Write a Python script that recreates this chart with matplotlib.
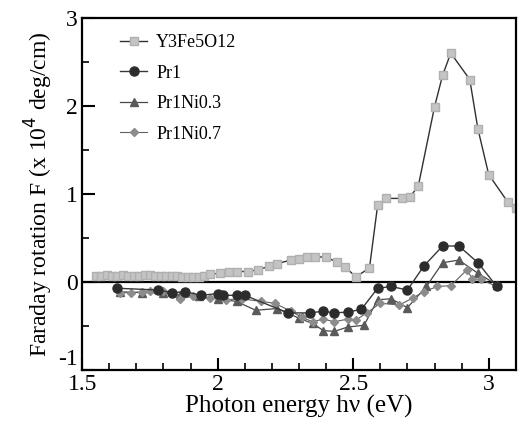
import matplotlib
matplotlib.use("Agg")
import matplotlib.pyplot as plt
from matplotlib.ticker import MultipleLocator

plt.rcParams['font.family'] = ['Liberation Serif', 'DejaVu Serif']
plt.rcParams['axes.unicode_minus'] = False

# Y3Fe5O12 (squares)
e_yig = [1.55, 1.57, 1.59, 1.61, 1.63, 1.65, 1.67, 1.69, 1.71, 1.73, 1.75, 1.77,
         1.79, 1.81, 1.83, 1.85, 1.87, 1.89, 1.91, 1.93, 1.95, 1.97, 2.01, 2.04,
         2.07, 2.11, 2.15, 2.19, 2.22, 2.27, 2.30, 2.33, 2.36, 2.40, 2.44, 2.47,
         2.51, 2.56, 2.59, 2.62, 2.68, 2.71, 2.74, 2.80, 2.83, 2.86, 2.93, 2.96,
         3.00, 3.07, 3.10]
f_yig = [0.07, 0.07, 0.08, 0.07, 0.07, 0.08, 0.07, 0.07, 0.07, 0.08, 0.08, 0.07,
         0.07, 0.07, 0.07, 0.07, 0.06, 0.06, 0.06, 0.06, 0.07, 0.09, 0.10, 0.11,
         0.12, 0.12, 0.14, 0.18, 0.21, 0.25, 0.26, 0.28, 0.29, 0.28, 0.23, 0.17,
         0.06, 0.16, 0.87, 0.95, 0.95, 0.97, 1.09, 1.99, 2.35, 2.60, 2.30, 1.74,
         1.22, 0.91, 0.84]

# Pr1 (circles)
e_pr1 = [1.63, 1.78, 1.83, 1.88, 1.94, 2.00, 2.02, 2.07, 2.10, 2.26, 2.34, 2.39,
         2.43, 2.48, 2.53, 2.59, 2.64, 2.70, 2.76, 2.83, 2.89, 2.96, 3.03]
f_pr1 = [-0.07, -0.09, -0.12, -0.11, -0.15, -0.13, -0.15, -0.15, -0.15, -0.35,
         -0.35, -0.33, -0.35, -0.34, -0.31, -0.07, -0.05, -0.09, 0.18, 0.41,
         0.41, 0.22, -0.05]

# Pr1Ni0.3 (triangles)
e_ni3 = [1.64, 1.72, 1.80, 1.86, 1.93, 2.00, 2.07, 2.14, 2.22, 2.30, 2.35, 2.39,
         2.43, 2.48, 2.54, 2.59, 2.64, 2.70, 2.77, 2.83, 2.89, 2.96, 3.03]
f_ni3 = [-0.11, -0.12, -0.12, -0.15, -0.16, -0.19, -0.22, -0.32, -0.30, -0.41,
         -0.47, -0.55, -0.56, -0.51, -0.49, -0.20, -0.19, -0.29, -0.05, 0.22,
         0.25, 0.10, -0.03]

# Pr1Ni0.7 (diamonds)
e_ni7 = [1.64, 1.68, 1.72, 1.75, 1.80, 1.86, 1.91, 1.97, 2.03, 2.09, 2.16, 2.21,
         2.27, 2.31, 2.35, 2.39, 2.43, 2.48, 2.51, 2.55, 2.60, 2.67, 2.72, 2.76,
         2.81, 2.86, 2.92, 2.94, 2.97, 3.03]
f_ni7 = [-0.12, -0.12, -0.11, -0.10, -0.10, -0.19, -0.16, -0.18, -0.20, -0.19,
         -0.22, -0.24, -0.33, -0.40, -0.45, -0.42, -0.45, -0.42, -0.43, -0.35,
         -0.24, -0.26, -0.18, -0.11, -0.05, -0.04, 0.14, 0.03, 0.03, -0.05]

fig = plt.figure(figsize=(5.2, 4.25), dpi=100)
ax = fig.add_axes([0.158, 0.129, 0.834, 0.829])

ax.axhline(0, color='black', lw=1.6, zorder=1)

ax.plot(e_yig, f_yig, '-', color='#303030', lw=1.0, marker='s', ms=5.5,
        mfc='#c4c4c4', mec='#b0b0b0', label='Y3Fe5O12', zorder=2)
ax.plot(e_pr1, f_pr1, '-', color='#383838', lw=1.0, marker='o', ms=6.5,
        mfc='#2c2c2c', mec='#2c2c2c', label='Pr1', zorder=4)
ax.plot(e_ni3, f_ni3, '-', color='#484848', lw=0.9, marker='^', ms=6,
        mfc='#5a5a5a', mec='#5a5a5a', label='Pr1Ni0.3', zorder=3)
ax.plot(e_ni7, f_ni7, '-', color='#606060', lw=0.8, marker='D', ms=4.5,
        mfc='#8c8c8c', mec='#8c8c8c', label='Pr1Ni0.7', zorder=3)

ax.set_xlim(1.5, 3.1)
ax.set_ylim(-1, 3)
ax.xaxis.set_major_locator(MultipleLocator(0.5))
ax.xaxis.set_minor_locator(MultipleLocator(0.1))
ax.yaxis.set_major_locator(MultipleLocator(1))
ax.yaxis.set_minor_locator(MultipleLocator(0.5))
ax.xaxis.set_major_formatter(plt.FuncFormatter(lambda v, p: f"{v:g}"))
ax.yaxis.set_major_formatter(plt.FuncFormatter(lambda v, p: f"{v:g}"))
ax.tick_params(direction='in', which='major', length=9, width=1.5, labelsize=17,
               top=False, right=False)
ax.tick_params(axis='x', pad=3)
ax.tick_params(axis='y', pad=3)
ax.tick_params(direction='in', which='minor', length=5, width=1.2,
               top=False, right=False)
for s in ax.spines.values():
    s.set_linewidth(1.6)

fig.canvas.draw()
for lab in ax.get_yticklabels():
    if lab.get_text() == '-1':
        lab.set_va('bottom')

ax.set_xlabel('Photon energy h\u03bd (eV)', fontsize=18, labelpad=0)
ax.set_ylabel('Faraday rotation F (x 10$^{4}$ deg/cm)', fontsize=17, labelpad=2)

ax.legend(loc='upper left', bbox_to_anchor=(0.05, 1.0), frameon=False,
          fontsize=13, handlelength=1.5, handletextpad=0.5, labelspacing=0.75)

fig.savefig('out.png', dpi=100)
